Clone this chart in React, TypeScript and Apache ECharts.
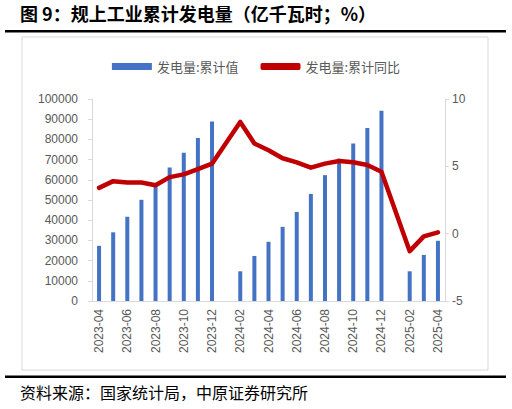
import React, { useEffect, useRef } from "react";
import * as echarts from "echarts";

const categories = [
  "2023-04", "2023-05", "2023-06", "2023-07", "2023-08", "2023-09", "2023-10", "2023-11", "2023-12",
  "2024-01", "2024-02", "2024-03", "2024-04", "2024-05", "2024-06", "2024-07", "2024-08", "2024-09",
  "2024-10", "2024-11", "2024-12", "2025-01", "2025-02", "2025-03", "2025-04",
];

const cumulativeValue = [
  27300, 34000, 41700, 50100, 57000, 66100, 73400, 80700, 88900,
  null, 14700, 22300, 29300, 36700, 44100, 53000, 62300, 70400,
  78000, 85600, 94200, null, 14700, 22800, 29800,
];

const cumulativeYoY = [
  3.4, 3.9, 3.8, 3.8, 3.6, 4.2, 4.4, 4.8, 5.2,
  null, 8.3, 6.7, 6.2, 5.6, 5.3, 4.9, 5.2, 5.4,
  5.3, 5.1, 4.6, null, -1.3, -0.2, 0.1,
];

const leftTicks = { min: 0, max: 100000, interval: 10000 };
const rightTicks = { min: -5, max: 10, interval: 5 };

const titleText = "图 9：规上工业累计发电量（亿千瓦时；%）";
const sourceText = "资料来源：国家统计局，中原证券研究所";
const barName = "发电量:累计值";
const lineName = "发电量:累计同比";

const CJK = '"Noto Sans CJK SC", "Noto Sans", sans-serif';
const NUM = '"Liberation Sans", Arial, sans-serif';
const GREY = "#595959";
const AXIS = "#D9D9D9";

export default function App() {
  const ref = useRef<HTMLDivElement>(null);

  useEffect(() => {
    if (!ref.current) return;
    const chart = echarts.init(ref.current, null, { renderer: "svg" });
    chart.setOption({
      animation: false,
      backgroundColor: "#ffffff",
      textStyle: { fontFamily: CJK },
      graphic: [
        {
          type: "text",
          left: 20,
          top: 4,
          style: {
            text: titleText,
            fontSize: 18,
            fontWeight: "bold",
            fontFamily: CJK,
            fill: "#000000",
          },
        },
        {
          type: "rect",
          shape: { x: 5, y: 30, width: 501, height: 2.5 },
          style: { fill: "#000000" },
        },
        {
          type: "rect",
          shape: { x: 22, y: 37, width: 466, height: 333 },
          style: { fill: "none", stroke: AXIS, lineWidth: 1 },
        },
        {
          type: "rect",
          shape: { x: 5, y: 375.5, width: 501, height: 2.5 },
          style: { fill: "#000000" },
        },
        {
          type: "text",
          left: 20,
          top: 384,
          style: {
            text: sourceText,
            fontSize: 16,
            fontFamily: CJK,
            fill: "#000000",
          },
        },
      ],
      legend: {
        top: 55,
        left: "center",
        itemWidth: 40,
        itemHeight: 7,
        itemGap: 22,
        textStyle: { color: GREY, fontSize: 13, fontFamily: CJK },
        data: [
          { name: barName, icon: "rect" },
          { name: lineName, icon: "roundRect" },
        ],
      },
      grid: { left: 92, right: 67, top: 99, bottom: 108, containLabel: false },
      xAxis: {
        type: "category",
        data: categories,
        boundaryGap: true,
        axisLine: { show: true, lineStyle: { color: AXIS, width: 1 } },
        axisTick: { show: false },
        axisLabel: {
          interval: 1,
          rotate: 90,
          color: GREY,
          fontSize: 12,
          fontFamily: NUM,
          margin: 8,
        },
      },
      yAxis: [
        {
          type: "value",
          min: leftTicks.min,
          max: leftTicks.max,
          interval: leftTicks.interval,
          axisLine: { show: true, lineStyle: { color: AXIS, width: 1 } },
          axisTick: { show: true, length: 4, lineStyle: { color: AXIS } },
          splitLine: { show: false },
          axisLabel: {
            color: GREY,
            fontSize: 12,
            fontFamily: NUM,
            margin: 14,
            formatter: (v: number) => String(v),
          },
        },
        {
          type: "value",
          min: rightTicks.min,
          max: rightTicks.max,
          interval: rightTicks.interval,
          position: "right",
          axisLine: { show: true, lineStyle: { color: AXIS, width: 1 } },
          axisTick: { show: true, length: 4, lineStyle: { color: AXIS } },
          splitLine: { show: false },
          axisLabel: {
            color: GREY,
            fontSize: 12,
            fontFamily: NUM,
            margin: 7,
            formatter: (v: number) => String(v),
          },
        },
      ],
      series: [
        {
          name: barName,
          type: "bar",
          data: cumulativeValue,
          barWidth: 4,
          itemStyle: { color: "#4472C4" },
          yAxisIndex: 0,
        },
        {
          name: lineName,
          type: "line",
          data: cumulativeYoY,
          yAxisIndex: 1,
          connectNulls: true,
          symbol: "none",
          itemStyle: { color: "#C00000" },
          lineStyle: { color: "#C00000", width: 4.5, cap: "round", join: "round" },
        },
      ],
    });
    return () => chart.dispose();
  }, []);

  return (
    <div
      ref={ref}
      style={{ position: "fixed", left: 0, top: 0, width: 512, height: 409 }}
    />
  );
}
